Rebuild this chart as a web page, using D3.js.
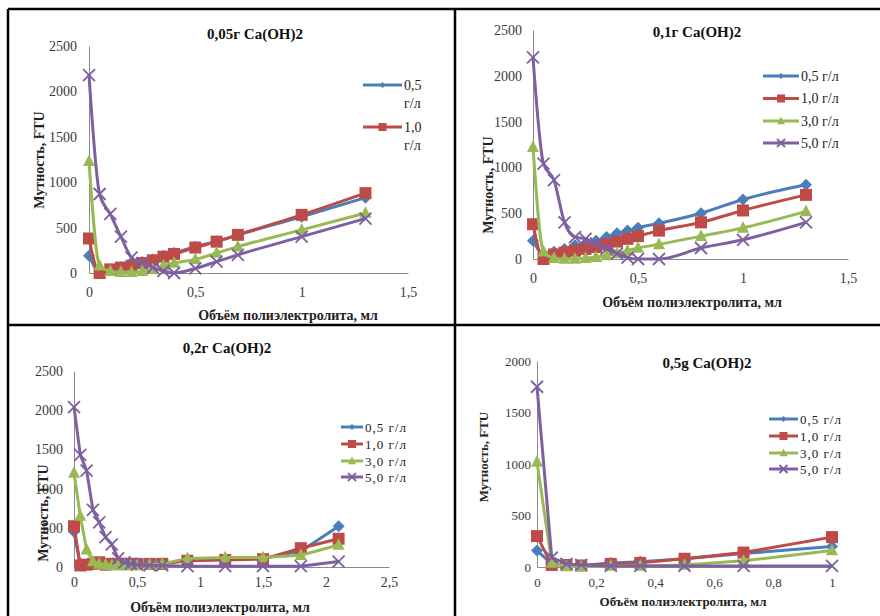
<!DOCTYPE html>
<html>
<head>
<meta charset="utf-8">
<script src="https://cdn.jsdelivr.net/npm/d3@7"></script>
<style>
  body { margin: 0; background: #fff; }
  svg { display: block; }
</style>
</head>
<body>
<svg id="chart" width="880" height="616"></svg>
<script>
// ---- data ----
const seriesNames = ["0,5 г/л", "1,0 г/л", "3,0 г/л", "5,0 г/л"];
const titles = ["0,05г Ca(OH)2", "0,1г Ca(OH)2", "0,2г Ca(OH)2", "0,5g Ca(OH)2"];
const yTitle = "Мутность, FTU";
const xTitle = "Объём полиэлектролита, мл";

// 0,05 г Ca(OH)2
const vol005 = [0, 0.05, 0.1, 0.15, 0.2, 0.25, 0.3, 0.35, 0.4, 0.5, 0.6, 0.7, 1.0, 1.3];
const t005_05 = [190, 20, 40, 60, 90, 120, 150, 190, 220, 290, 350, 420, 620, 830];
const t005_10 = [380, 0, 40, 60, 80, 110, 140, 180, 210, 280, 345, 420, 640, 880];
const t005_30 = [1230, 80, 20, 10, 10, 20, 40, 80, 110, 150, 220, 290, 475, 660];
const t005_50 = [2180, 870, 650, 400, 170, 110, 60, 20, 0, 50, 125, 200, 400, 600];

// 0,1 г Ca(OH)2
const vol01 = [0, 0.05, 0.1, 0.15, 0.2, 0.25, 0.3, 0.35, 0.4, 0.45, 0.5, 0.6, 0.8, 1.0, 1.3];
const t01_05 = [200, 60, 80, 110, 150, 170, 200, 240, 280, 310, 340, 390, 500, 650, 810];
const t01_10 = [380, 0, 50, 70, 90, 110, 130, 160, 190, 220, 250, 310, 400, 530, 700];
const t01_30 = [1220, 80, 10, 0, 0, 10, 20, 40, 60, 90, 120, 160, 250, 340, 520];
const t01_50 = [2200, 1040, 860, 400, 240, 220, 170, 110, 60, 15, 0, 0, 120, 210, 400];

// 0,2 г Ca(OH)2
const vol02 = [0, 0.05, 0.1, 0.15, 0.2, 0.25, 0.3, 0.35, 0.4, 0.45, 0.5, 0.6, 0.7, 0.9, 1.2, 1.5, 1.8, 2.1];
const t02_05 = [450, 20, 30, 40, 50, 40, 40, 40, 40, 40, 40, 40, 40, 90, 100, 110, 200, 520];
const t02_10 = [520, 20, 30, 40, 60, 30, 40, 40, 40, 40, 40, 40, 40, 80, 90, 100, 240, 360];
const t02_30 = [1200, 650, 220, 70, 40, 30, 20, 20, 20, 20, 20, 30, 40, 110, 120, 120, 150, 280];
const t02_50 = [2040, 1430, 1230, 730, 570, 380, 290, 110, 60, 40, 30, 20, 20, 10, 10, 10, 10, 70];

// 0,5 g Ca(OH)2
const vol05 = [0, 0.05, 0.1, 0.15, 0.25, 0.35, 0.5, 0.7, 1.0];
const t05_05 = [160, 30, 20, 15, 40, 50, 80, 130, 200];
const t05_10 = [300, 20, 20, 15, 30, 40, 80, 140, 290];
const t05_30 = [1020, 40, 5, 5, 10, 10, 20, 60, 160];
const t05_50 = [1750, 90, 30, 20, 10, 10, 10, 10, 10];

// ---- drawing ----
const colors = ["#4a7ebb", "#be4b48", "#98b954", "#7d60a0"];
const markers = ["diamond", "square", "triangle", "cross"];
const serif = "'Liberation Serif', 'Times New Roman', serif";
const fmt = d => String(d).replace(".", ",");

const svg = d3.select("#chart");

function markerPath(kind, r) {
    if (kind === "diamond") return `M0,${-r}L${r},0L0,${r}L${-r},0Z`;
    if (kind === "square") return `M${-r},${-r}h${2 * r}v${2 * r}h${-2 * r}Z`;
    if (kind === "triangle") return `M0,${-r * 1.15}L${r},${r * 0.8}L${-r},${r * 0.8}Z`;
    return `M${-r},${-r}L${r},${r}M${r},${-r}L${-r},${r}`;
}

function drawMarker(g, kind, color, cx, cy, r) {
    const m = g.append("path")
        .attr("d", markerPath(kind, r))
        .attr("transform", `translate(${cx},${cy})`);
    if (kind === "cross") m.attr("fill", "none").attr("stroke", color).attr("stroke-width", 1.8);
    else m.attr("fill", color);
}

function drawPanel(p) {
    const x = d3.scaleLinear().domain(p.xDomain).range([p.left, p.right]);
    const y = d3.scaleLinear().domain(p.yDomain).range([p.bottom, p.top]);
    const g = svg.append("g");

    // axes
    const yAxis = g.append("g")
        .attr("transform", `translate(${p.left},0)`)
        .call(d3.axisLeft(y).tickValues(p.yTicks).tickSize(0).tickSizeOuter(0)
            .tickPadding(p.yPad).tickFormat(fmt));
    const xAxis = g.append("g")
        .attr("transform", `translate(0,${p.bottom})`)
        .call(d3.axisBottom(x).tickValues(p.xTicks).tickSize(0).tickSizeOuter(0)
            .tickPadding(p.xPad).tickFormat(fmt));
    [xAxis, yAxis].forEach(a => {
        a.select(".domain").attr("stroke", "#8a8a8a").attr("stroke-width", 1);
        a.selectAll("text")
            .attr("font-family", serif)
            .attr("font-size", p.tickSize)
            .attr("fill", "#3a3a3a");
    });

    // series
    const line = d3.line()
        .x(d => x(d[0]))
        .y(d => y(d[1]))
        .curve(p.smooth ? d3.curveMonotoneX : d3.curveLinear);

    p.series.forEach((vals, i) => {
        const pts = p.vol.map((v, k) => [v, vals[k]]);
        g.append("path")
            .datum(pts)
            .attr("fill", "none")
            .attr("stroke", colors[i])
            .attr("stroke-width", p.lineWidth)
            .attr("stroke-linejoin", "round")
            .attr("d", line);
        pts.forEach(d => drawMarker(g, markers[i], colors[i], x(d[0]), y(d[1]), p.markerR));
    });

    // legend
    const lg = g.append("g");
    p.legendRows.forEach((ry, i) => {
        if (ry == null) return;
        lg.append("line")
            .attr("x1", p.legendX1).attr("x2", p.legendX2)
            .attr("y1", ry).attr("y2", ry)
            .attr("stroke", colors[i]).attr("stroke-width", p.lineWidth);
        drawMarker(lg, markers[i], colors[i], (p.legendX1 + p.legendX2) / 2, ry,
            markers[i] === "diamond" ? 3 : 4);
        const t = lg.append("text")
            .attr("x", p.legendX2 + 2)
            .attr("y", ry + 4.5)
            .attr("font-family", serif)
            .attr("font-size", p.legendSize)
            .attr("letter-spacing", p.legendSpacing)
            .attr("fill", "#222");
        if (p.legendWrap) {
            const parts = seriesNames[i].split(" ");
            t.append("tspan").text(parts[0]);
            t.append("tspan").attr("x", p.legendX2 + 2).attr("dy", 18).text(parts[1]);
        } else {
            t.text(seriesNames[i]);
        }
    });

    // titles
    g.append("text")
        .attr("x", p.titleX).attr("y", p.titleY)
        .attr("text-anchor", "middle")
        .attr("font-family", serif).attr("font-weight", "bold")
        .attr("font-size", 15).attr("fill", "#111")
        .text(p.title);
    g.append("text")
        .attr("x", p.xTitleX).attr("y", p.xTitleY)
        .attr("text-anchor", "middle")
        .attr("font-family", serif).attr("font-weight", "bold")
        .attr("font-size", p.axisTitleSize).attr("fill", "#222")
        .text(xTitle);
    g.append("text")
        .attr("transform", `translate(${p.yTitleX},${p.yTitleY}) rotate(-90)`)
        .attr("text-anchor", "middle")
        .attr("font-family", serif).attr("font-weight", "bold")
        .attr("font-size", p.axisTitleSize).attr("fill", "#222")
        .text(yTitle);
}

drawPanel({
    title: titles[0], vol: vol005, series: [t005_05, t005_10, t005_30, t005_50],
    xDomain: [0, 1.5], yDomain: [0, 2500],
    xTicks: [0, 0.5, 1, 1.5], yTicks: [0, 500, 1000, 1500, 2000, 2500],
    left: 89, right: 408, top: 46, bottom: 273,
    yPad: 12, xPad: 14, tickSize: 14, smooth: true, lineWidth: 3, markerR: 6,
    legendRows: [85, 127, null, null], legendX1: 363, legendX2: 402,
    legendSize: 14, legendSpacing: 0, legendWrap: true,
    titleX: 255, titleY: 39, xTitleX: 288, xTitleY: 320, yTitleX: 44, yTitleY: 160,
    axisTitleSize: 14
});

drawPanel({
    title: titles[1], vol: vol01, series: [t01_05, t01_10, t01_30, t01_50],
    xDomain: [0, 1.5], yDomain: [0, 2500],
    xTicks: [0, 0.5, 1, 1.5], yTicks: [0, 500, 1000, 1500, 2000, 2500],
    left: 533, right: 848, top: 30, bottom: 259,
    yPad: 11, xPad: 14, tickSize: 14, smooth: true, lineWidth: 3, markerR: 6,
    legendRows: [76, 98.5, 121, 143], legendX1: 763, legendX2: 799,
    legendSize: 14, legendSpacing: 0, legendWrap: false,
    titleX: 697, titleY: 37, xTitleX: 692, xTitleY: 307, yTitleX: 493, yTitleY: 185,
    axisTitleSize: 14
});

drawPanel({
    title: titles[2], vol: vol02, series: [t02_05, t02_10, t02_30, t02_50],
    xDomain: [0, 2.5], yDomain: [0, 2500],
    xTicks: [0, 0.5, 1, 1.5, 2, 2.5], yTicks: [0, 500, 1000, 1500, 2000, 2500],
    left: 74, right: 389, top: 371, bottom: 567,
    yPad: 11, xPad: 10, tickSize: 14, smooth: false, lineWidth: 3, markerR: 6,
    legendRows: [427, 444, 461, 477], legendX1: 341, legendX2: 363,
    legendSize: 13, legendSpacing: 1, legendWrap: false,
    titleX: 227, titleY: 353, xTitleX: 220, xTitleY: 612, yTitleX: 48, yTitleY: 513,
    axisTitleSize: 14
});

drawPanel({
    title: titles[3], vol: vol05, series: [t05_05, t05_10, t05_30, t05_50],
    xDomain: [0, 1], yDomain: [0, 2000],
    xTicks: [0, 0.2, 0.4, 0.6, 0.8, 1], yTicks: [0, 500, 1000, 1500, 2000],
    left: 537, right: 832, top: 361, bottom: 567,
    yPad: 6, xPad: 11, tickSize: 13, smooth: false, lineWidth: 3, markerR: 6,
    legendRows: [419, 436, 453, 469], legendX1: 769, legendX2: 798,
    legendSize: 13, legendSpacing: 1, legendWrap: false,
    titleX: 707, titleY: 368, xTitleX: 683, xTitleY: 606, yTitleX: 488, yTitleY: 457,
    axisTitleSize: 13
});

// panel frame lines
const frame = [
    [8, 9, 880, 9],
    [8, 9, 8, 616],
    [455, 9, 455, 616],
    [8, 325, 880, 325]
];
svg.append("g").selectAll("line")
    .data(frame)
    .join("line")
    .attr("x1", d => d[0]).attr("y1", d => d[1])
    .attr("x2", d => d[2]).attr("y2", d => d[3])
    .attr("stroke", "#000")
    .attr("stroke-width", 2.5);
</script>
</body>
</html>
